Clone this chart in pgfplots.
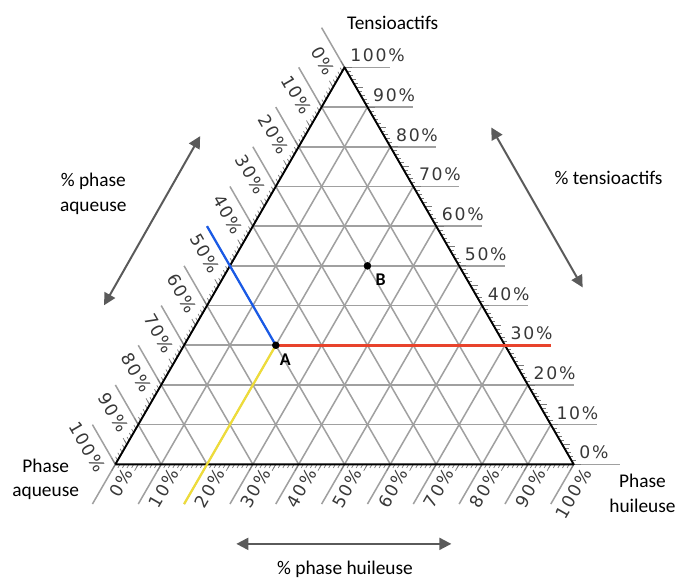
\documentclass[border=0pt]{standalone}
\usepackage{pgfplots}
\pgfplotsset{compat=1.18}
\usepackage{fontspec}
\setmainfont{Carlito}
\newfontfamily\tickfont[LetterSpace=10]{DejaVu Sans}
\usetikzlibrary{arrows.meta}
\definecolor{gridc}{HTML}{A0A0A0}
\definecolor{tickc}{HTML}{7A7A7A}
\definecolor{arrowc}{HTML}{5A5A5A}
\definecolor{redl}{HTML}{E8432C}
\definecolor{bluel}{HTML}{1A5AE6}
\definecolor{yell}{HTML}{EEDC3A}
\begin{document}
\begin{tikzpicture}
\begin{axis}[
  width=510pt, height=435.75pt, scale only axis,
  xmin=-25.163, xmax=122.343, ymin=-24.729, ymax=101.302,
  hide axis, clip=false,
]
\addplot[draw=none] coordinates {(-25.163,-24.729) (122.343,101.302)};
% grid lines (every 10 %)
\pgfplotsinvokeforeach{0,1,...,10}{
  \draw[gridc, line width=1.15pt] (axis cs:{5*#1},{8.660254*#1}) -- (axis cs:{110-5*#1},{8.660254*#1});
  \draw[gridc, line width=1.15pt] (axis cs:{100-10*#1},0) -- (axis cs:{45-5*#1},{(100-10*#1)*0.8660254+8.660254});
  \draw[gridc, line width=1.15pt] (axis cs:{50+5*#1},{(100-10*#1)*0.8660254}) -- (axis cs:{10*#1-5},-8.660254);
}
% minor ticks every 1 %
\pgfplotsinvokeforeach{0,1,...,100}{
  \draw[tickc, line width=0.55pt] (axis cs:{100-#1/2},{#1*0.8660254}) -- (axis cs:{100-#1/2+0.9},{#1*0.8660254});
  \draw[tickc, line width=0.55pt] (axis cs:{#1/2},{#1*0.8660254}) -- (axis cs:{#1/2-0.45},{#1*0.8660254+0.78});
  \draw[tickc, line width=0.55pt] (axis cs:{#1},0) -- (axis cs:{#1-0.45},-0.78);
}
\pgfplotsinvokeforeach{0,5,...,100}{
  \draw[tickc, line width=0.55pt] (axis cs:{100-#1/2},{#1*0.8660254}) -- (axis cs:{100-#1/2+1.6},{#1*0.8660254});
  \draw[tickc, line width=0.55pt] (axis cs:{#1/2},{#1*0.8660254}) -- (axis cs:{#1/2-0.8},{#1*0.8660254+1.39});
  \draw[tickc, line width=0.55pt] (axis cs:{#1},0) -- (axis cs:{#1-0.8},-1.39);
}
% triangle
\addplot[black, line width=1.4pt, line join=round] coordinates {(0,0) (100,0) (50,86.60254) (0,0)};
% tick labels
\pgfplotsinvokeforeach{0,10,...,100}{
  \node[anchor=base west, inner sep=0pt, text=black!78, font=\tickfont\fontsize{13}{15}\selectfont] at (axis cs:{100-#1/2+1.2},{#1*0.8660254+1.2}) {#1\%};
  \node[anchor=east, rotate=-60, inner sep=0pt, text=black!78, font=\tickfont\fontsize{13}{15}\selectfont] at (axis cs:{(100-#1)/2-3.14},{(100-#1)*0.8660254-1.35}) {#1\%};
  \node[anchor=east, rotate=60, inner sep=0pt, text=black!78, font=\tickfont\fontsize{13}{15}\selectfont] at (axis cs:{#1+2.9},{-1.3}) {#1\%};
}
% construction lines through A
\addplot[bluel, line width=1.7pt] coordinates {(35,25.98) (20,51.96)};
\addplot[redl, line width=2pt] coordinates {(35,25.98) (95,25.98)};
\addplot[yell, line width=1.7pt] coordinates {(35,25.98) (15,-8.66)};
% points
\addplot[only marks, mark=*, mark size=2.6pt, black] coordinates {(35,25.98) (55,43.30)};
\node[font=\bfseries\fontsize{13.5}{16}\selectfont] at (axis cs:37.1,22.8) {A};
\node[font=\bfseries\fontsize{13.5}{16}\selectfont] at (axis cs:57.9,40.3) {B};
% arrows
\addplot[arrowc, line width=1.5pt, {Triangle[length=9pt,width=9pt]}-{Triangle[length=9pt,width=9pt]}] coordinates {(-2.47,34.7) (18.5,71.6)};
\addplot[arrowc, line width=1.5pt, {Triangle[length=9pt,width=9pt]}-{Triangle[length=9pt,width=9pt]}] coordinates {(82.0,73.5) (101.95,38.6)};
\addplot[arrowc, line width=1.5pt, {Triangle[length=9pt,width=9pt]}-{Triangle[length=9pt,width=9pt]}] coordinates {(26.4,-17.35) (73.3,-17.35)};
% titles
\node[font=\fontsize{14.6}{18.5}\selectfont] at (axis cs:60.5,96.3) {Tensioactifs};
\node[align=center, font=\fontsize{14.6}{18.5}\selectfont] at (axis cs:-4.8,59.0) {\% phase\\aqueuse};
\node[font=\fontsize{14.6}{18.5}\selectfont] at (axis cs:107.6,62.5) {\% tensioactifs};
\node[align=center, font=\fontsize{14.6}{18.5}\selectfont] at (axis cs:-15.2,-3.25) {Phase\\aqueuse};
\node[align=center, font=\fontsize{14.6}{18.5}\selectfont] at (axis cs:115.0,-6.29) {Phase\\huileuse};
\node[font=\fontsize{14.6}{18.5}\selectfont] at (axis cs:50.1,-22.8) {\% phase huileuse};
\end{axis}
\end{tikzpicture}
\end{document}
